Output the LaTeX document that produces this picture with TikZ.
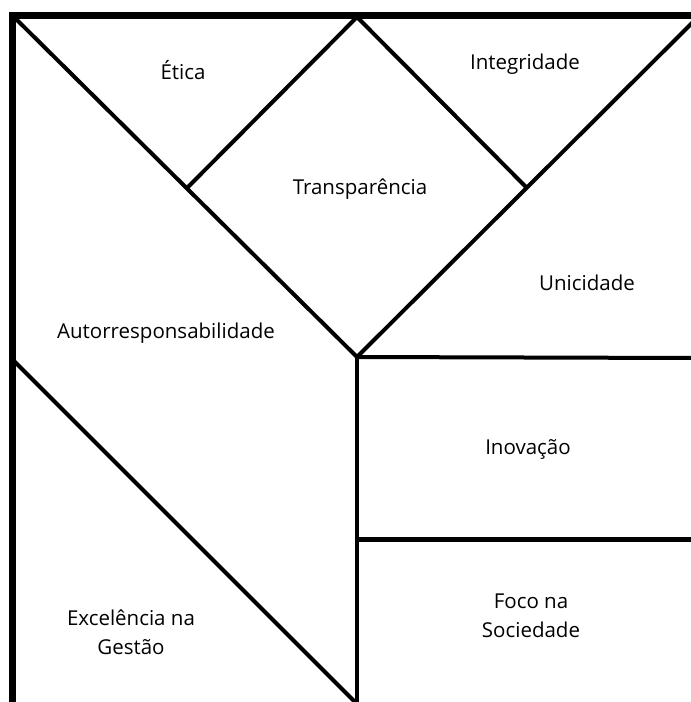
\documentclass[tikz,border=0pt]{standalone}
\usepackage{fontspec}
\setmainfont{Open Sans}
\begin{document}
\begin{tikzpicture}[x=1pt,y=-1pt,
  border/.style={line width=7pt,line cap=rect},
  inner/.style={line width=4pt},
  lbl/.style={font=\fontsize{20.5}{29}\selectfont,align=center,text=black}]
\useasboundingbox (0,0) rectangle (691,702);
\fill[white] (0,0) rectangle (691,702);
% coordinates
\coordinate (TL) at (12,15);
\coordinate (TR) at (695,15);
\coordinate (BL) at (12,706);
\coordinate (Stop) at (357,17);
\coordinate (Sleft) at (187,188);
\coordinate (Sright) at (527,188);
\coordinate (Sbot) at (357,357);
\coordinate (Rtop) at (693,22);
\coordinate (H1r) at (695,358);
\coordinate (H2l) at (355,539);
\coordinate (H2r) at (695,539);
\coordinate (Vbot) at (357,706);
\coordinate (D2a) at (14,361);
\coordinate (D2b) at (357,704);
\coordinate (D1a) at (14,17);
% inner lines
\draw[inner] (D1a) -- (Sbot);
\draw[inner] (Sleft) -- (Stop) -- (Sright);
\draw[inner] (Sbot) -- (Rtop);
\draw[inner] (Sbot) -- (H1r);
\draw[inner] (Sbot) -- (Vbot);
\draw[line width=5pt] (H2l) -- (H2r);
\draw[inner] (D2a) -- (D2b);
% borders
\draw[border] (BL) -- (TL) -- (TR);
% labels
\node[lbl] (etica) at (183,70) {Ética};
\node[lbl] (integ) at (525,64) {Integridade};
\node[lbl] (transp) at (360,189) {Transparência};
\node[lbl] (unic) at (587,283) {Unicidade};
\node[lbl] (auto) at (166,333) {Autorresponsabilidade};
\node[lbl] (inov) at (528,449) {Inovação};
\node[lbl] (foco) at (531,616) {Foco na\\Sociedade};
\node[lbl] (excel) at (131,632) {Excelência na\\Gestão};
\end{tikzpicture}
\end{document}
